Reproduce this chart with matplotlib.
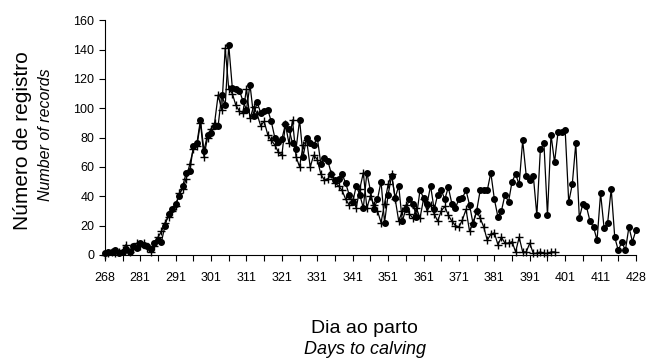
import matplotlib.pyplot as plt
import numpy as np

plt.rcParams["font.family"] = ["Liberation Sans", "DejaVu Sans"]

# dias (rotulos do eixo x, a cada 10 categorias)
tick_labels = ["268", "281", "291", "301", "311", "321", "331", "341",
               "351", "361", "371", "381", "391", "401", "411", "428"]

# serie com circulos (151 categorias)
circles = [1, 2, 2, 3, 1, 2, 4, 2, 6, 5,
           8, 7, 6, 4, 8, 10, 9, 20, 28, 31,
           35, 40, 47, 56, 57, 74, 76, 92, 71, 82,
           83, 88, 88, 109, 102, 143, 114, 113, 112, 105,
           99, 116, 95, 104, 97, 98, 99, 91, 80, 77,
           79, 89, 86, 76, 72, 92, 67, 80, 76, 75,
           80, 62, 66, 64, 55, 51, 52, 55, 49, 41,
           36, 47, 41, 32, 56, 44, 31, 38, 50, 22,
           41, 54, 39, 47, 23, 31, 38, 35, 26, 44,
           39, 35, 47, 31, 41, 44, 38, 46, 35, 32,
           38, 39, 44, 34, 21, 30, 44, 44, 44, 56,
           38, 26, 30, 41, 36, 50, 55, 48, 78, 54,
           51, 54, 27, 72, 76, 27, 82, 63, 84, 84,
           85, 36, 48, 76, 25, 35, 33, 23, 19, 10,
           42, 18, 22, 45, 12, 3, 9, 3, 19, 9,
           17]

# serie com cruzes (termina antes)
crosses = [0, 1, 2, 1, 2, 3, 7, 2, 4, 8,
           6, 8, 5, 2, 6, 12, 16, 22, 26, 30,
           33, 42, 45, 52, 62, 72, 74, 90, 67, 80,
           86, 90, 109, 99, 141, 113, 110, 102, 98, 97,
           113, 93, 101, 96, 88, 91, 82, 78, 75, 70,
           68, 89, 76, 92, 67, 60, 75, 78, 60, 68,
           65, 55, 51, 52, 55, 49, 47, 44, 38, 34,
           38, 32, 45, 56, 32, 40, 34, 30, 22, 35,
           48, 55, 38, 23, 30, 34, 28, 25, 32, 25,
           38, 30, 34, 28, 23, 30, 33, 27, 23, 20,
           19, 24, 31, 16, 22, 30, 25, 19, 10, 14,
           15, 7, 12, 8, 8, 9, 2, 12, 2, 2,
           8, 1, 1, 2, 1, 1, 2, 2]

fig = plt.figure(figsize=(6.47, 3.6), dpi=100)
ax1 = fig.add_axes([0.162, 0.292, 0.821, 0.652])

x1 = np.arange(len(circles))
x2 = np.arange(len(crosses))

ax1.plot(x2, crosses, color="black", lw=0.9, marker="+", ms=6, mew=1.0, clip_on=False)
ax1.plot(x1, circles, color="black", lw=0.9, marker="o", ms=4, clip_on=False)

ax1.set_xlim(0, 150)
ax1.set_ylim(0, 160)
ax1.set_yticks(range(0, 161, 20))
ax1.set_xticks(range(0, 151, 10))
ax1.set_xticklabels(tick_labels)
ax1.set_xticks(range(5, 151, 10), minor=True)
ax1.tick_params(axis="both", which="both", direction="out", length=4, width=0.8, labelsize=9)
ax1.tick_params(axis="x", pad=8)

ax1.spines["top"].set_visible(False)
ax1.spines["right"].set_visible(False)

fig.text(0.035, 0.61, "Número de registro", rotation=90, ha="center", va="center", fontsize=15)
fig.text(0.071, 0.625, "Number of records", rotation=90, ha="center", va="center",
         fontsize=11.5, style="italic")
fig.text(0.564, 0.088, "Dia ao parto", ha="center", va="center", fontsize=14)
fig.text(0.564, 0.028, "Days to calving", ha="center", va="center", fontsize=13, style="italic")

fig.savefig("out.png", dpi=100)
